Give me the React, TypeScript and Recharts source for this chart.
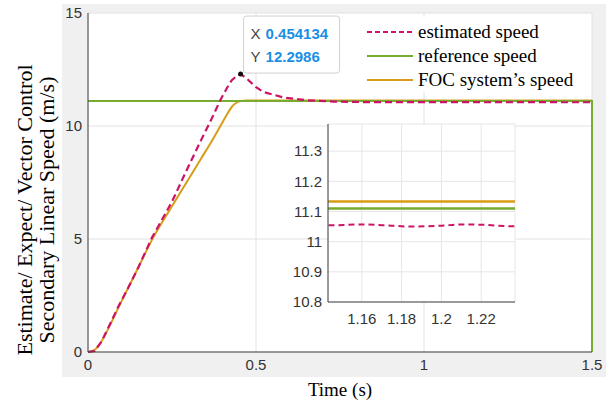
import { LineChart, Line, XAxis, YAxis, CartesianGrid, Legend, ReferenceDot } from 'recharts';

const time = [
  0, 0.02, 0.04, 0.066, 0.09, 0.12, 0.15, 0.19, 0.25, 0.289, 0.334, 0.369, 0.394, 0.418, 0.428, 0.443,
  0.454134, 0.473, 0.483, 0.5, 0.523, 0.582, 0.652, 0.732, 0.83, 1.0, 1.143, 1.16, 1.175, 1.185, 1.2,
  1.21, 1.22, 1.237, 1.3, 1.5, 1.5,
];
const estimated = [
  0, 0.05, 0.45, 1.25, 2.0, 2.85, 3.75, 5.05, 6.65, 7.9, 9.3, 10.35, 11.15, 11.8, 12.03, 12.22,
  12.2986, 12.1, 11.95, 11.72, 11.5, 11.26, 11.14, 11.08, 11.055, 11.053, 11.054, 11.057, 11.053, 11.05, 11.053,
  11.057, 11.056, 11.051, 11.054, 11.05, null,
];
const reference = [
  11.11, 11.11, 11.11, 11.11, 11.11, 11.11, 11.11, 11.11, 11.11, 11.11, 11.11, 11.11, 11.11, 11.11, 11.11, 11.11,
  11.11, 11.11, 11.11, 11.11, 11.11, 11.11, 11.11, 11.11, 11.11, 11.11, 11.11, 11.11, 11.11, 11.11, 11.11,
  11.11, 11.11, 11.11, 11.11, 11.11, 0,
];
const focSpeed = [
  0, 0.1, 0.47, 1.2, 1.95, 2.85, 3.75, 4.95, 6.45, 7.4, 8.5, 9.35, 10.0, 10.62, 10.85, 11.04,
  11.1, 11.13, 11.133, 11.133, 11.133, 11.133, 11.133, 11.133, 11.133, 11.133, 11.133, 11.133, 11.133, 11.133, 11.133,
  11.133, 11.133, 11.133, 11.133, 11.133, null,
];

const xTicks = [0, 0.5, 1, 1.5];
const yTicks = [0, 5, 10, 15];
const insetXTicks = [1.16, 1.18, 1.2, 1.22];
const insetYTicks = [10.8, 10.9, 11, 11.1, 11.2, 11.3];

const tip = { x: 0.454134, y: 12.2986 };

const rows = time.map((t, i) => ({ t, est: estimated[i], ref: reference[i], foc: focSpeed[i] }));

const RED = '#cc1466';
const GREEN = '#77ac30';
const ORANGE = '#d99c16';
const AXIS = '#404040';
const tickFont = { fontFamily: 'Liberation Sans, Arial, sans-serif', fontSize: 15, fill: '#333' };
const serif = 'Liberation Serif, Times New Roman, serif';

function LegendBox() {
  const items = [
    { name: 'estimated speed', color: RED, dash: '5 3' },
    { name: 'reference speed', color: GREEN, dash: undefined },
    { name: 'FOC system\u2019s speed', color: ORANGE, dash: undefined },
  ];
  return (
    <div style={{ background: '#fff', width: 232, height: 75, paddingTop: 3, paddingLeft: 9, boxSizing: 'border-box' }}>
      {items.map((it) => (
        <div key={it.name} style={{ display: 'flex', alignItems: 'center', height: 24 }}>
          <svg width={46} height={6} style={{ marginRight: 5 }}>
            <line x1={0} y1={3} x2={46} y2={3} stroke={it.color} strokeWidth={2} strokeDasharray={it.dash} />
          </svg>
          <span style={{ fontFamily: serif, fontSize: 19, color: '#000', lineHeight: '24px' }}>{it.name}</span>
        </div>
      ))}
    </div>
  );
}

function DataTip(props: any) {
  const vb = props.viewBox;
  const cx = vb.x + vb.width / 2;
  const cy = vb.y + vb.height / 2;
  return (
    <g>
      <rect x={cx + 3} y={cy - 58} width={96} height={57} rx={3} fill="#fff" fillOpacity={0.95} stroke="#d0d0d0" />
      <text x={cx + 10} y={cy - 35} fontFamily="Liberation Sans, Arial" fontSize={15} fill="#444">X</text>
      <text x={cx + 25} y={cy - 35} fontFamily="Liberation Sans, Arial" fontSize={15} fontWeight="bold" fill="#1a8fe6">
        {String(tip.x)}
      </text>
      <text x={cx + 10} y={cy - 12} fontFamily="Liberation Sans, Arial" fontSize={15} fill="#444">Y</text>
      <text x={cx + 25} y={cy - 12} fontFamily="Liberation Sans, Arial" fontSize={15} fontWeight="bold" fill="#1a8fe6">
        {String(tip.y)}
      </text>
    </g>
  );
}

function YTitle() {
  const cy = 210;
  return (
    <g fontFamily={serif} fontSize={22} fill="#000">
      <text x={24} y={cy} textAnchor="middle" dominantBaseline="central" transform={`rotate(-90 24 ${cy})`}>
        Estimate/ Expect/ Vector Control
      </text>
      <text x={46} y={cy} textAnchor="middle" dominantBaseline="central" transform={`rotate(-90 46 ${cy})`}>
        Secondary Linear Speed (m/s)
      </text>
    </g>
  );
}

function XTitle(props: any) {
  const vb = props.viewBox;
  const cx = vb.x + vb.width / 2;
  return (
    <text x={cx} y={389} textAnchor="middle" dominantBaseline="central" fontFamily={serif} fontSize={19} fill="#000">
      Time (s)
    </text>
  );
}

export default function App() {
  return (
    <div style={{ position: 'absolute', left: 0, top: 0, width: 611, height: 403, background: '#fff' }}>
      <div style={{ position: 'absolute', left: 62, top: 4, width: 544, height: 373, background: '#f0f0f0' }} />
      <div style={{ position: 'absolute', left: 0, top: 0 }}>
        <LineChart width={611} height={403} data={rows} margin={{ top: 13, right: 19, bottom: 31, left: 58 }}>
          <CartesianGrid stroke="#e2e2e2" fill="#fff" />
          <XAxis
            dataKey="t"
            type="number"
            domain={[0, 1.5]}
            ticks={xTicks}
            tick={tickFont}
            tickLine={false}
            tickSize={5}
            tickMargin={2}
            height={20}
            axisLine={{ stroke: AXIS }}
            label={{ content: XTitle }}
          />
          <XAxis xAxisId="top" orientation="top" type="number" domain={[0, 1.5]} tick={false} tickLine={false} height={0} axisLine={{ stroke: AXIS }} />
          <YAxis
            type="number"
            domain={[0, 15]}
            ticks={yTicks}
            tick={tickFont}
            tickLine={false}
            tickSize={4}
            tickMargin={2}
            width={30}
            axisLine={{ stroke: AXIS }}
            label={{ content: YTitle }}
          />
          <YAxis yAxisId="right" orientation="right" domain={[0, 15]} tick={false} tickLine={false} width={0} axisLine={{ stroke: AXIS }} />
          <Line dataKey="foc" type="monotone" stroke={ORANGE} strokeWidth={2} dot={false} isAnimationActive={false} />
          <Line dataKey="ref" type="linear" stroke={GREEN} strokeWidth={2} dot={false} isAnimationActive={false} />
          <Line dataKey="est" type="linear" stroke={RED} strokeWidth={2.2} strokeDasharray="7 4" dot={false} isAnimationActive={false} />
          <ReferenceDot x={tip.x} y={tip.y} r={2.5} fill="#111" stroke="none" label={{ content: DataTip }} />
          <Legend
            layout="vertical"
            align="center"
            verticalAlign="middle"
            content={<LegendBox />}
            wrapperStyle={{ left: 358, top: 17, width: 232, height: 75 }}
          />
        </LineChart>
      </div>
      <div style={{ position: 'absolute', left: 290, top: 118 }}>
        <LineChart width={230} height={214} data={rows} margin={{ top: 6, right: 5, bottom: 0, left: 8 }}>
          <CartesianGrid stroke="#e6e6e6" fill="#fff" />
          <XAxis
            dataKey="t"
            type="number"
            domain={[1.143, 1.237]}
            allowDataOverflow
            ticks={insetXTicks}
            tick={tickFont}
            tickLine={false}
            tickSize={5}
            tickMargin={6}
            height={30}
            axisLine={{ stroke: AXIS }}
          />
          <XAxis xAxisId="top" orientation="top" type="number" domain={[1.143, 1.237]} tick={false} tickLine={false} height={0} axisLine={{ stroke: AXIS }} />
          <YAxis
            type="number"
            domain={[10.8, 11.39]}
            allowDataOverflow
            ticks={insetYTicks}
            tick={tickFont}
            tickLine={false}
            tickSize={4}
            tickMargin={2}
            width={30}
            axisLine={{ stroke: AXIS }}
          />
          <YAxis yAxisId="right" orientation="right" domain={[10.8, 11.39]} tick={false} tickLine={false} width={0} axisLine={{ stroke: AXIS }} />
          <Line dataKey="foc" type="linear" stroke={ORANGE} strokeWidth={2.5} dot={false} isAnimationActive={false} />
          <Line dataKey="ref" type="linear" stroke={GREEN} strokeWidth={2.5} dot={false} isAnimationActive={false} />
          <Line dataKey="est" type="monotone" stroke={RED} strokeWidth={2} strokeDasharray="6 4" dot={false} isAnimationActive={false} />
        </LineChart>
      </div>
    </div>
  );
}
